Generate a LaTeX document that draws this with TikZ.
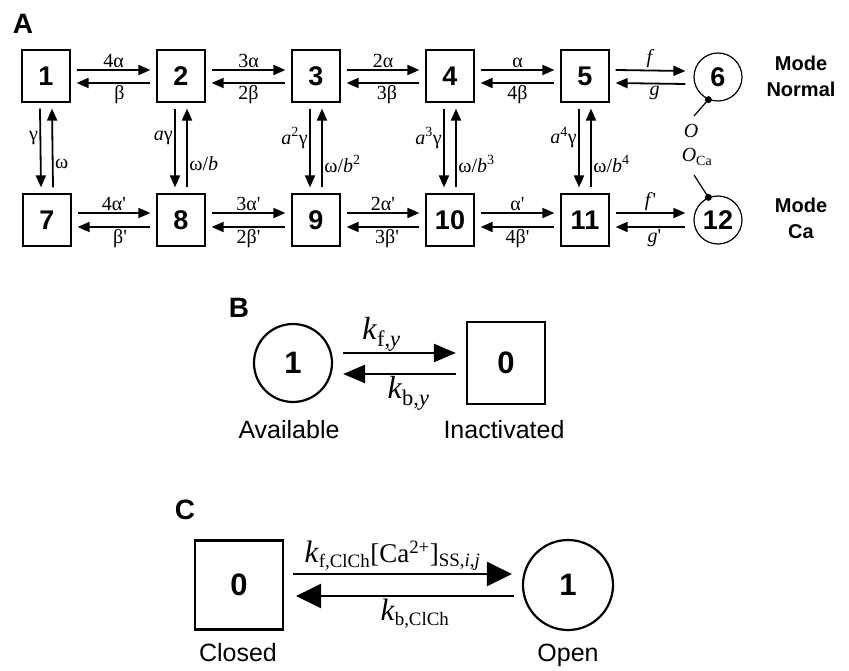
\documentclass[tikz,border=0pt]{standalone}
\usepackage{fontspec}
\setmainfont{Liberation Serif}
\setsansfont{Liberation Sans}
\usetikzlibrary{arrows.meta}

\tikzset{
  stbox/.style={draw, line width=1.2pt, minimum width=48pt, minimum height=52pt, inner sep=0pt,
    font=\sffamily\bfseries\fontsize{27}{27}\selectfont},
  stcirc/.style={stbox, circle, minimum size=48pt},
  rate/.style={font=\fontsize{20}{20}\selectfont, inner sep=1.5pt},
  fwd/.style={-{Triangle[length=12pt,width=10pt]}, line width=1.8pt},
  bigbox/.style={draw, line width=2.2pt, inner sep=0pt, font=\sffamily\bfseries\fontsize{31}{31}\selectfont},
  bigrate/.style={font=\fontsize{27}{27}\selectfont, inner sep=2pt},
  fwdB/.style={-{Triangle[length=22pt,width=18pt]}, line width=2.4pt},
  fwdC/.style={-{Triangle[length=25pt,width=24pt]}, line width=2.8pt},
  panel/.style={font=\sffamily\bfseries\fontsize{28}{28}\selectfont},
  modename/.style={font=\sffamily\bfseries\fontsize{20}{26}\selectfont, align=center},
  statename/.style={font=\sffamily\fontsize{25}{25}\selectfont, text height=18pt, text depth=5pt}
}

\begin{document}
\begin{tikzpicture}[x=1pt, y=-1pt]
\useasboundingbox (0,0) rectangle (849,671);

% Panel A
\node[panel] (pA) at (23,24) {A};

% Mode Normal row
\node[stbox] (s1) at (46,76) {1};
\node[stbox] (s2) at (181,76) {2};
\node[stbox] (s3) at (316,76) {3};
\node[stbox] (s4) at (450,76) {4};
\node[stbox] (s5) at (585,76) {5};
\node[stcirc] (s6) at (718,77) {6};
\node[modename] (mN) at (801,76) {Mode\\Normal};

% Mode Ca row
\node[modename] (mC) at (801,218) {Mode\\Ca};
\node[stbox] (s7) at (47,220) {7};
\node[stbox] (s8) at (181,220) {8};
\node[stbox] (s9) at (316,220) {9};
\node[stbox] (s10) at (450,220) {10};
\node[stbox] (s11) at (585,220) {11};
\node[stcirc] (s12) at (718,220) {12};

% Horizontal transitions, Mode Normal
\draw[fwd] ([xshift=6pt,yshift=6pt]s1.east) -- ([xshift=-6pt,yshift=6pt]s2.west) node[rate, midway, above] {4α};
\draw[fwd] ([xshift=-6pt,yshift=-7pt]s2.west) -- ([xshift=6pt,yshift=-7pt]s1.east) node[rate, midway, below, xshift=6pt] {β};
\draw[fwd] ([xshift=6pt,yshift=6pt]s2.east) -- ([xshift=-6pt,yshift=6pt]s3.west) node[rate, midway, above] {3α};
\draw[fwd] ([xshift=-6pt,yshift=-7pt]s3.west) -- ([xshift=6pt,yshift=-7pt]s2.east) node[rate, midway, below] {2β};
\draw[fwd] ([xshift=6pt,yshift=6pt]s3.east) -- ([xshift=-6pt,yshift=6pt]s4.west) node[rate, midway, above] {2α};
\draw[fwd] ([xshift=-6pt,yshift=-7pt]s4.west) -- ([xshift=6pt,yshift=-7pt]s3.east) node[rate, midway, below, xshift=4pt] {3β};
\draw[fwd] ([xshift=6pt,yshift=6pt]s4.east) -- ([xshift=-6pt,yshift=6pt]s5.west) node[rate, midway, above] {α};
\draw[fwd] ([xshift=-6pt,yshift=-7pt]s5.west) -- ([xshift=6pt,yshift=-7pt]s4.east) node[rate, midway, below] {4β};
\draw[fwd] ([xshift=6pt,yshift=6pt]s5.east) -- ([xshift=-8pt,yshift=6pt]s6.west) node[rate, midway, above] {\textit{f}};
\draw[fwd] ([xshift=-8pt,yshift=-7pt]s6.west) -- ([xshift=6pt,yshift=-7pt]s5.east) node[rate, midway, below, xshift=4pt] {\textit{g}};

% Horizontal transitions, Mode Ca
\draw[fwd] ([xshift=6pt,yshift=7pt]s7.east) -- ([xshift=-6pt,yshift=7pt]s8.west) node[rate, midway, above] {4α\textquotesingle};
\draw[fwd] ([xshift=-6pt,yshift=-7pt]s8.west) -- ([xshift=6pt,yshift=-7pt]s7.east) node[rate, midway, below, xshift=6pt] {β\textquotesingle};
\draw[fwd] ([xshift=6pt,yshift=7pt]s8.east) -- ([xshift=-6pt,yshift=7pt]s9.west) node[rate, midway, above] {3α\textquotesingle};
\draw[fwd] ([xshift=-6pt,yshift=-7pt]s9.west) -- ([xshift=6pt,yshift=-7pt]s8.east) node[rate, midway, below] {2β\textquotesingle};
\draw[fwd] ([xshift=6pt,yshift=7pt]s9.east) -- ([xshift=-6pt,yshift=7pt]s10.west) node[rate, midway, above] {2α\textquotesingle};
\draw[fwd] ([xshift=-6pt,yshift=-7pt]s10.west) -- ([xshift=6pt,yshift=-7pt]s9.east) node[rate, midway, below, xshift=4pt] {3β\textquotesingle};
\draw[fwd] ([xshift=6pt,yshift=7pt]s10.east) -- ([xshift=-6pt,yshift=7pt]s11.west) node[rate, midway, above] {α\textquotesingle};
\draw[fwd] ([xshift=-6pt,yshift=-7pt]s11.west) -- ([xshift=6pt,yshift=-7pt]s10.east) node[rate, midway, below] {4β\textquotesingle};
\draw[fwd] ([xshift=6pt,yshift=7pt]s11.east) -- ([xshift=-8pt,yshift=7pt]s12.west) node[rate, midway, above] {\textit{f}\textquotesingle};
\draw[fwd] ([xshift=-8pt,yshift=-7pt]s12.west) -- ([xshift=6pt,yshift=-7pt]s11.east) node[rate, midway, below, xshift=4pt] {\textit{g}\textquotesingle};

% Vertical transitions between modes
\draw[fwd] ([xshift=-6pt,yshift=-6pt]s1.south) -- ([xshift=-6pt,yshift=6pt]s7.north) node[rate, pos=0.37, left] {γ};
\draw[fwd] ([xshift=6pt,yshift=6pt]s7.north) -- ([xshift=6pt,yshift=-6pt]s1.south) node[rate, pos=0.3, right] {ω};
\draw[fwd] ([xshift=-6pt,yshift=-6pt]s2.south) -- ([xshift=-6pt,yshift=6pt]s8.north) node[rate, pos=0.37, left] {\textit{a}γ};
\draw[fwd] ([xshift=6pt,yshift=6pt]s8.north) -- ([xshift=6pt,yshift=-6pt]s2.south) node[rate, pos=0.3, right] {ω/\textit{b}};
\draw[fwd] ([xshift=-6pt,yshift=-6pt]s3.south) -- ([xshift=-6pt,yshift=6pt]s9.north) node[rate, pos=0.37, left] {\textit{a}\textsuperscript{2}γ};
\draw[fwd] ([xshift=6pt,yshift=6pt]s9.north) -- ([xshift=6pt,yshift=-6pt]s3.south) node[rate, pos=0.3, right] {ω/\textit{b}\textsuperscript{2}};
\draw[fwd] ([xshift=-6pt,yshift=-6pt]s4.south) -- ([xshift=-6pt,yshift=6pt]s10.north) node[rate, pos=0.37, left] {\textit{a}\textsuperscript{3}γ};
\draw[fwd] ([xshift=6pt,yshift=6pt]s10.north) -- ([xshift=6pt,yshift=-6pt]s4.south) node[rate, pos=0.3, right] {ω/\textit{b}\textsuperscript{3}};
\draw[fwd] ([xshift=-6pt,yshift=-6pt]s5.south) -- ([xshift=-6pt,yshift=6pt]s11.north) node[rate, pos=0.37, left] {\textit{a}\textsuperscript{4}γ};
\draw[fwd] ([xshift=6pt,yshift=6pt]s11.north) -- ([xshift=6pt,yshift=-6pt]s5.south) node[rate, pos=0.3, right] {ω/\textit{b}\textsuperscript{4}};

% Open states
\coordinate (oN) at (694,116);
\coordinate (oC) at (694,175);
\node[rate] (lO) at (691,131) {\textit{O}};
\node[rate] (lOCa) at (697,157) {\textit{O}\textsubscript{Ca}};
\fill (s6.-113) circle (3.5);
\fill (s12.113) circle (3.5);
\draw[line width=1.2pt] (s6.-113) -- (oN);
\draw[line width=1.2pt] (s12.113) -- (oC);

% Panel B
\node[panel] (pB) at (239,308) {B};
\node[bigbox, circle, minimum size=78pt] (avail) at (293,363) {1};
\node[bigbox, minimum width=78pt, minimum height=82pt] (inact) at (506,363) {0};
\draw[fwdB] ([xshift=10pt,yshift=10pt]avail.east) -- ([xshift=-10pt,yshift=10pt]inact.west)
  node[bigrate, font=\fontsize{32}{32}\selectfont, midway, above, xshift=-18pt, inner sep=0pt] {\textit{k}\textsubscript{f,\textit{y}}};
\draw[fwdB] ([xshift=-10pt,yshift=-11pt]inact.west) -- ([xshift=10pt,yshift=-11pt]avail.east)
  node[bigrate, font=\fontsize{32}{32}\selectfont, midway, below, xshift=9pt, inner sep=1pt] {\textit{k}\textsubscript{b,\textit{y}}};
\node[statename] (tAv) at (289,432) {Available};
\node[statename] (tIn) at (504,432) {Inactivated};

% Panel C
\node[panel] (pC) at (185,510) {C};
\node[bigbox, minimum width=88pt, minimum height=89pt] (closed) at (239,585) {0};
\node[bigbox, circle, minimum size=90pt] (open) at (568,585) {1};
\draw[fwdC] ([xshift=9pt,yshift=11pt]closed.east) -- ([xshift=-10pt,yshift=11pt]open.west)
  node[bigrate, midway, above, xshift=-10pt] {{\fontsize{31}{31}\selectfont\textit{k}}\textsubscript{f,ClCh}[Ca\textsuperscript{2+}]\textsubscript{SS,\textit{i},\textit{j}}};
\draw[fwdC] ([xshift=-8pt,yshift=-11pt]open.west) -- ([xshift=12pt,yshift=-11pt]closed.east)
  node[bigrate, midway, below, xshift=10pt] {{\fontsize{31}{31}\selectfont\textit{k}}\textsubscript{b,ClCh}};
\node[statename] (tCl) at (238,655) {Closed};
\node[statename] (tOp) at (568,655) {Open};

\end{tikzpicture}
\end{document}
